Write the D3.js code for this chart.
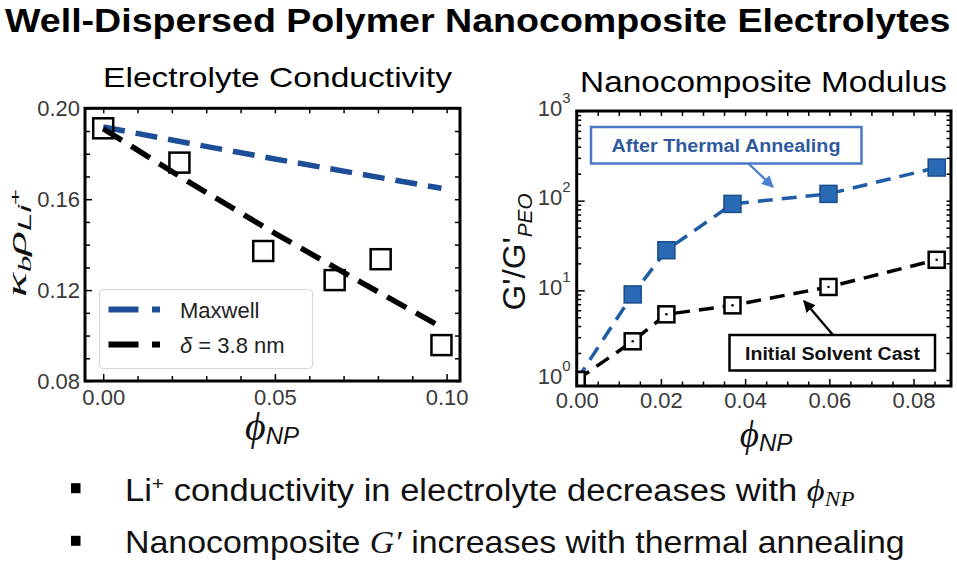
<!DOCTYPE html>
<html><head><meta charset="utf-8">
<script src="https://cdn.jsdelivr.net/npm/d3@7"></script>
<style>body{margin:0;background:#fff}svg{display:block}</style>
</head><body>
<script>
// ---------------- data ----------------
const mainTitle = "Well-Dispersed Polymer Nanocomposite Electrolytes";
const leftTitle = "Electrolyte Conductivity";
const rightTitle = "Nanocomposite Modulus";

// Left panel: electrolyte conductivity
const condPhi = [0.000, 0.0222, 0.0466, 0.0674, 0.0808, 0.0985];
const condVal = [0.1912, 0.1761, 0.1372, 0.1244, 0.1336, 0.0958];
const maxwellPhi = [0.000, 0.025, 0.050, 0.075, 0.0985];
const maxwellVal = [0.1918, 0.1846, 0.1777, 0.1710, 0.1648];
const deltaPhi = [0.000, 0.025, 0.050, 0.075, 0.0985];
const deltaVal = [0.1910, 0.1675, 0.1450, 0.1235, 0.1037];
const leftXTicks = [0.00, 0.05, 0.10];
const leftXMinor = [0.01,0.02,0.03,0.04,0.06,0.07,0.08,0.09];
const leftYTicks = [0.08, 0.12, 0.16, 0.20];
const leftYMinor = [0.09,0.10,0.11,0.13,0.14,0.15,0.17,0.18,0.19];
const legendLabels = ["Maxwell", "δ = 3.8 nm"];

// Right panel: nanocomposite modulus
const modPhi = [0.000, 0.0133, 0.0213, 0.0370, 0.0598, 0.0855];
const annealed = [1.0, 9.0, 28, 92, 119, 234];
const solventCast = [1.0, 2.7, 5.4, 6.8, 10.9, 21.9];
const rightXTicks = [0.00, 0.02, 0.04, 0.06, 0.08];
const rightXMinor = [0.005,0.01,0.015,0.025,0.03,0.035,0.045,0.05,0.055,0.065,0.07,0.075,0.085];
const rightYTicks = [1, 10, 100, 1000];
const annealLabel = "After Thermal Annealing";
const castLabel = "Initial Solvent Cast";

const bullets = ["Li", "+", " conductivity in electrolyte decreases with ", "Nanocomposite ", " increases with thermal annealing"];

// ---------------- setup ----------------
const W = 957, H = 562;
const SANS = "'Liberation Sans', Arial, sans-serif";
const SERIF = "'Liberation Serif', 'DejaVu Serif', serif";
const svg = d3.select("body").append("svg").attr("width", W).attr("height", H);
svg.append("rect").attr("width", W).attr("height", H).attr("fill", "#fff");

function fitX(sel, target) {
  const w = sel.node().getBBox().width;
  sel.attr("transform", `scale(${target / w},1)`);
}

// main title
{
  const g = svg.append("g").attr("transform", "translate(5,32)");
  const t = g.append("text").attr("font-family", SANS).attr("font-weight", "bold")
    .attr("font-size", 34).attr("fill", "#000").text(mainTitle);
  fitX(t, 946);
}

function styleAxis(g) {
  g.select(".domain").remove();
  g.selectAll(".tick line").attr("stroke", "#000").attr("stroke-width", 1.5);
  g.selectAll("text").attr("font-family", SANS).attr("font-size", 22).attr("fill", "#3a3a3a");
}

// ---------------- LEFT PANEL ----------------
const L = {x0: 85, x1: 460, y0: 108.3, y1: 381};
const xL = d3.scaleLinear().domain([-0.0053, 0.1039]).range([L.x0, L.x1]);
const yL = d3.scaleLinear().domain([0.08, 0.20]).range([L.y1, L.y0]);
const gl = svg.append("g");

gl.append("g").attr("transform", `translate(0,${L.y1})`)
  .call(d3.axisBottom(xL).tickValues(leftXTicks).tickSize(-7).tickPadding(8).tickFormat(d3.format(".2f")))
  .call(styleAxis);
gl.append("g").attr("transform", `translate(0,${L.y1})`)
  .call(d3.axisBottom(xL).tickValues(leftXMinor).tickSize(-5).tickFormat("")).call(styleAxis);
gl.append("g").attr("transform", `translate(0,${L.y0})`)
  .call(d3.axisTop(xL).tickValues(leftXTicks.concat(leftXMinor)).tickSize(-5).tickFormat("")).call(styleAxis);
gl.append("g").attr("transform", `translate(${L.x0},0)`)
  .call(d3.axisLeft(yL).tickValues(leftYTicks).tickSize(-7).tickPadding(5).tickFormat(d3.format(".2f")))
  .call(styleAxis);
gl.append("g").attr("transform", `translate(${L.x0},0)`)
  .call(d3.axisLeft(yL).tickValues(leftYMinor).tickSize(-5).tickFormat("")).call(styleAxis);
gl.append("g").attr("transform", `translate(${L.x1},0)`)
  .call(d3.axisRight(yL).tickValues(leftYTicks.concat(leftYMinor)).tickSize(-5).tickFormat("")).call(styleAxis);

const lineL = d3.line().x(d => xL(d[0])).y(d => yL(d[1]));
gl.append("path").datum(maxwellPhi.map((p, i) => [p, maxwellVal[i]]))
  .attr("d", lineL).attr("fill", "none").attr("stroke", "#1f4e98").attr("stroke-width", 5.5)
  .attr("stroke-dasharray", "22,11");
gl.append("path").datum(deltaPhi.map((p, i) => [p, deltaVal[i]]))
  .attr("d", lineL).attr("fill", "none").attr("stroke", "#000").attr("stroke-width", 5.5)
  .attr("stroke-dasharray", "22,11");

const sq = 20;
gl.selectAll("rect.cond").data(condPhi.map((p, i) => [p, condVal[i]])).join("rect")
  .attr("x", d => xL(d[0]) - sq / 2).attr("y", d => yL(d[1]) - sq / 2)
  .attr("width", sq).attr("height", sq).attr("fill", "none").attr("stroke", "#000").attr("stroke-width", 2.5);

// legend
{
  const lg = gl.append("g");
  lg.append("rect").attr("x", 99.5).attr("y", 289.5).attr("width", 213).attr("height", 79).attr("rx", 4)
    .attr("fill", "#fff").attr("fill-opacity", 0.85).attr("stroke", "#d8d8d8").attr("stroke-width", 1.2);
  const cols = ["#1f4e98", "#000"];
  const ys = [309.5, 344.5];
  legendLabels.forEach((lab, i) => {
    lg.append("line").attr("x1", 108.5).attr("x2", 160).attr("y1", ys[i]).attr("y2", ys[i])
      .attr("stroke", cols[i]).attr("stroke-width", 6).attr("stroke-dasharray", "30,13.5");
    const t = lg.append("text").attr("x", 180).attr("y", ys[i] + 8).attr("font-family", SANS)
      .attr("font-size", 22).attr("fill", "#222");
    if (i === 0) t.text(lab);
    else {
      t.append("tspan").attr("font-style", "italic").text(lab.slice(0, 1));
      t.append("tspan").text(lab.slice(1));
    }
  });
}
gl.append("rect").attr("x", L.x0).attr("y", L.y0).attr("width", L.x1 - L.x0).attr("height", L.y1 - L.y0)
  .attr("fill", "none").attr("stroke", "#000").attr("stroke-width", 3);

{
  const g = svg.append("g").attr("transform", `translate(${(103 + 452) / 2},86.5)`);
  const t = g.append("text").attr("text-anchor", "middle").attr("font-family", SANS).attr("font-size", 28)
    .attr("fill", "#000").text(leftTitle);
  fitX(t, 349);
}
{
  const g = svg.append("g").attr("transform", "translate(26,243) rotate(-90)");
  const t = g.append("text").attr("text-anchor", "middle").attr("font-family", SERIF).attr("font-size", 28)
    .attr("font-style", "italic").attr("fill", "#111");
  t.append("tspan").text("κ");
  t.append("tspan").attr("font-size", 18).attr("dy", 5).text("b");
  t.append("tspan").attr("dy", -5).text("ρ");
  t.append("tspan").attr("font-size", 18).attr("dy", 5).attr("font-family", SANS).text("Li");
  t.append("tspan").attr("font-size", 15).attr("dy", -11).attr("font-style", "normal").attr("font-family", SANS).text("+");
  fitX(t, 109);
}
function phiLabel(cx, cy, fs) {
  const g = svg.append("g").attr("transform", `translate(${cx},${cy})`);
  const t = g.append("text").attr("text-anchor", "middle").attr("fill", "#111");
  t.append("tspan").attr("font-family", SERIF).attr("font-style", "italic").attr("font-size", fs).text("ϕ");
  t.append("tspan").attr("font-family", SANS).attr("font-style", "italic").attr("font-size", 24).attr("dy", 4).text("NP");
}
phiLabel(272, 440, 40);

// ---------------- RIGHT PANEL ----------------
const R = {x0: 576.7, x1: 951, y0: 111, y1: 386};
const xR = d3.scaleLinear().domain([0, 0.0889]).range([R.x0, R.x1]);
const yR = d3.scaleLog().domain([0.857, 1000]).range([R.y1, R.y0]);
const gr = svg.append("g");

const minorY = [];
[1, 10, 100].forEach(b => { for (let k = 2; k <= 9; k++) minorY.push(b * k); });

gr.append("g").attr("transform", `translate(0,${R.y1})`)
  .call(d3.axisBottom(xR).tickValues(rightXTicks).tickSize(-7).tickPadding(6).tickFormat(d3.format(".2f")))
  .call(styleAxis);
gr.append("g").attr("transform", `translate(0,${R.y1})`)
  .call(d3.axisBottom(xR).tickValues(rightXMinor).tickSize(-4.5).tickFormat("")).call(styleAxis);
gr.append("g").attr("transform", `translate(0,${R.y0})`)
  .call(d3.axisTop(xR).tickValues(rightXTicks.concat(rightXMinor)).tickSize(-5).tickFormat("")).call(styleAxis);
const yAx = gr.append("g").attr("transform", `translate(${R.x0},0)`)
  .call(d3.axisLeft(yR).tickValues(rightYTicks).tickSize(-8).tickPadding(6).tickFormat(d => ""))
  .call(styleAxis);
yAx.selectAll(".tick text").each(function (d) {
  const t = d3.select(this).attr("dy", "0.32em");
  t.append("tspan").text("10").attr("dy", 4);
  t.append("tspan").attr("font-size", 15).attr("dy", -13).text(String(Math.round(Math.log10(d))));
});
gr.append("g").attr("transform", `translate(${R.x0},0)`)
  .call(d3.axisLeft(yR).tickValues(minorY).tickSize(-4.5).tickFormat("")).call(styleAxis);
gr.append("g").attr("transform", `translate(${R.x1},0)`)
  .call(d3.axisRight(yR).tickValues(rightYTicks.concat(minorY)).tickSize(-4.5).tickFormat("")).call(styleAxis);

const lineR = d3.line().x(d => xR(d[0])).y(d => yR(d[1]));
const annPts = modPhi.map((p, i) => [p, annealed[i]]);
const castPts = modPhi.map((p, i) => [p, solventCast[i]]);

gr.append("path").datum(annPts).attr("d", lineR).attr("fill", "none")
  .attr("stroke", "#1f5da6").attr("stroke-width", 3.5).attr("stroke-dasharray", "15,9");
gr.append("path").datum(castPts).attr("d", lineR).attr("fill", "none")
  .attr("stroke", "#000").attr("stroke-width", 3.5).attr("stroke-dasharray", "15,9");

gr.append("clipPath").attr("id", "clipR").append("rect")
  .attr("x", R.x0).attr("y", R.y0).attr("width", R.x1 - R.x0).attr("height", R.y1 - R.y0);
const mk = gr.append("g").attr("clip-path", "url(#clipR)");
const sqB = 17, sqK = 16;
mk.selectAll("rect.ann").data(annPts).join("rect")
  .attr("x", d => xR(d[0]) - sqB / 2).attr("y", d => yR(d[1]) - sqB / 2)
  .attr("width", sqB).attr("height", sqB).attr("fill", "#2a6ab4").attr("stroke", "#1a4d8c").attr("stroke-width", 1.5);
mk.selectAll("rect.cast").data(castPts).join("rect")
  .attr("x", d => xR(d[0]) - sqK / 2).attr("y", d => yR(d[1]) - sqK / 2)
  .attr("width", sqK).attr("height", sqK).attr("fill", "#fff").attr("stroke", "#000").attr("stroke-width", 2.5);
mk.selectAll("circle.cast").data(castPts.slice(1)).join("circle")
  .attr("cx", d => xR(d[0])).attr("cy", d => yR(d[1])).attr("r", 1.3).attr("fill", "#000");

const defs = svg.append("defs");
function arrowHead(id, color) {
  defs.append("marker").attr("id", id).attr("viewBox", "0 0 10 10").attr("refX", 9).attr("refY", 5)
    .attr("markerWidth", 5).attr("markerHeight", 5).attr("orient", "auto-start-reverse")
    .attr("markerUnits", "strokeWidth")
    .append("path").attr("d", "M0,0 L10,5 L0,10 z").attr("fill", color);
}
arrowHead("arrB", "#4a80d0");
arrowHead("arrK", "#000");

gr.append("line").attr("x1", 748).attr("y1", 163).attr("x2", 773).attr("y2", 187)
  .attr("stroke", "#4a80d0").attr("stroke-width", 2.4).attr("marker-end", "url(#arrB)");
gr.append("rect").attr("x", 591).attr("y", 127).attr("width", 270.5).attr("height", 36.5)
  .attr("fill", "#fff").attr("stroke", "#4a78c6").attr("stroke-width", 2.5);
{
  const g = gr.append("g").attr("transform", "translate(726,152)");
  const t = g.append("text").attr("text-anchor", "middle").attr("font-family", SANS).attr("font-weight", "bold")
    .attr("font-size", 18).attr("fill", "#2f5a9e").text(annealLabel);
  fitX(t, 229);
}
gr.append("line").attr("x1", 833).attr("y1", 335).attr("x2", 804).attr("y2", 301)
  .attr("stroke", "#000").attr("stroke-width", 2.4).attr("marker-end", "url(#arrK)");
gr.append("rect").attr("x", 729.5).attr("y", 335).attr("width", 205.5).attr("height", 35.5)
  .attr("fill", "#fff").attr("stroke", "#000").attr("stroke-width", 2.5);
{
  const g = gr.append("g").attr("transform", "translate(832.5,359.5)");
  const t = g.append("text").attr("text-anchor", "middle").attr("font-family", SANS).attr("font-weight", "bold")
    .attr("font-size", 18).attr("fill", "#111").text(castLabel);
  fitX(t, 175);
}

gr.append("rect").attr("x", R.x0).attr("y", R.y0).attr("width", R.x1 - R.x0).attr("height", R.y1 - R.y0)
  .attr("fill", "none").attr("stroke", "#000").attr("stroke-width", 3);

{
  const g = svg.append("g").attr("transform", `translate(${(580 + 947) / 2},91.5)`);
  const t = g.append("text").attr("text-anchor", "middle").attr("font-family", SANS).attr("font-size", 29)
    .attr("fill", "#000").text(rightTitle);
  fitX(t, 367);
}
{
  const g = svg.append("g").attr("transform", "translate(525,252) rotate(-90)");
  const t = g.append("text").attr("text-anchor", "middle").attr("font-family", SANS).attr("font-size", 32)
    .attr("fill", "#111");
  t.append("tspan").text("G'/G'");
  t.append("tspan").attr("font-size", 20).attr("font-style", "italic").attr("dy", 7).text("PEO");
  fitX(t, 117);
}
phiLabel(766, 447, 37);

// ---------------- bullets ----------------
{
  const baselines = [500.7, 553.3];
  baselines.forEach(b => {
    svg.append("rect").attr("x", 71).attr("y", b - 17.5).attr("width", 9.5).attr("height", 10).attr("fill", "#000");
  });
  const g1 = svg.append("g").attr("transform", `translate(125,${baselines[0]})`);
  const t1 = g1.append("text").attr("font-family", SANS).attr("font-size", 31).attr("fill", "#111");
  t1.append("tspan").text(bullets[0]);
  t1.append("tspan").attr("font-size", 19).attr("dy", -11).text(bullets[1]);
  t1.append("tspan").attr("dy", 11).text(bullets[2]);
  t1.append("tspan").attr("font-family", SERIF).attr("font-style", "italic").attr("font-size", 31).text("ϕ");
  t1.append("tspan").attr("font-family", SERIF).attr("font-style", "italic").attr("font-size", 21).attr("dy", 5).text("NP");
  fitX(t1, 730);

  const g2 = svg.append("g").attr("transform", `translate(125,${baselines[1]})`);
  const t2 = g2.append("text").attr("font-family", SANS).attr("font-size", 31).attr("fill", "#111");
  t2.append("tspan").text(bullets[3]);
  t2.append("tspan").attr("font-family", SERIF).attr("font-style", "italic").text("G′");
  t2.append("tspan").text(bullets[4]);
  fitX(t2, 780);
}
</script>
</body></html>
